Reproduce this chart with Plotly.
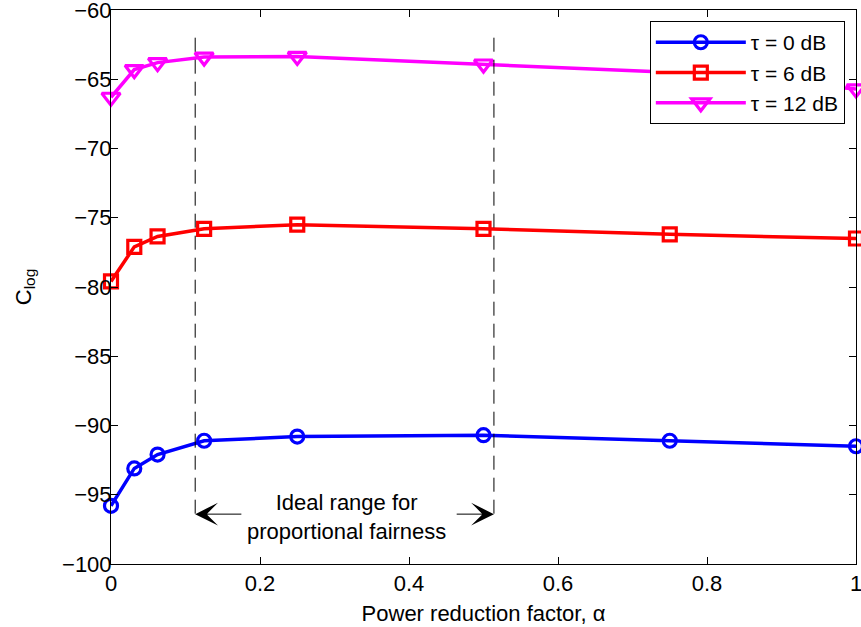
import plotly.graph_objects as go

alpha = [0, 0.03125, 0.0625, 0.125, 0.25, 0.5, 0.75, 1.0]
c_tau0 = [-95.8, -93.1, -92.1, -91.1, -90.8, -90.7, -91.1, -91.5]
c_tau6 = [-79.6, -77.1, -76.35, -75.8, -75.5, -75.8, -76.2, -76.5]
c_tau12 = [-66.3, -64.3, -63.8, -63.4, -63.35, -63.9, -64.5, -65.7]
series_names = ["τ = 0 dB", "τ = 6 dB", "τ = 12 dB"]
series_colors = ["#0000FF", "#FF0000", "#FF00FF"]
series_symbols = ["circle-open", "square-open", "triangle-down-open"]
series_sizes = [13, 13, 16]

range_bounds = [0.113, 0.514]
dash_y = [-62.0, -96.75]
arrow_y = -96.4
arrow_tails = [0.177, 0.462]
range_label = "Ideal range for<br>proportional fairness"
range_label_pos = (0.316, -96.6)

x_ticks = [0, 0.2, 0.4, 0.6, 0.8, 1]
x_ticklabels = ["0", "0.2", "0.4", "0.6", "0.8", "1"]
y_ticks = [-100, -95, -90, -85, -80, -75, -70, -65, -60]
y_ticklabels = ["−100", "−95", "−90", "−85", "−80", "−75", "−70", "−65", "−60"]

FONT = "Liberation Sans, Arial, Helvetica, sans-serif"
FS = 22

fig = go.Figure()
for ys, name, col, sym, sz in zip([c_tau0, c_tau6, c_tau12], series_names,
                                  series_colors, series_symbols, series_sizes):
    fig.add_trace(go.Scatter(
        x=alpha, y=ys, name=name, mode="lines+markers",
        line=dict(color=col, width=3.5),
        marker=dict(symbol=sym, size=sz, color=col, line=dict(color=col, width=3.2)),
        cliponaxis=False,
    ))

for xb in range_bounds:
    fig.add_shape(type="line", x0=xb, x1=xb, y0=dash_y[0], y1=dash_y[1],
                  xref="x", yref="y", line=dict(color="black", width=1, dash="14px,8px"))

for xb, xt in zip(range_bounds, arrow_tails):
    fig.add_annotation(x=xb, y=arrow_y, ax=xt, ay=arrow_y, xref="x", yref="y",
                       axref="x", ayref="y", showarrow=True, arrowhead=3,
                       arrowsize=3.8, arrowwidth=1, arrowcolor="black", text="")

fig.add_annotation(x=range_label_pos[0], y=range_label_pos[1], xref="x", yref="y",
                   text=range_label, showarrow=False,
                   font=dict(family=FONT, size=FS, color="black"))

axis_common = dict(showline=True, linecolor="black", linewidth=1, mirror="ticks",
                   ticks="inside", ticklen=7, tickcolor="black", showgrid=False,
                   zeroline=False, ticklabeloverflow="allow", automargin=False,
                   tickfont=dict(family=FONT, size=FS, color="black"))

fig.update_xaxes(range=[0, 1], tickvals=x_ticks, ticktext=x_ticklabels,
                 title=dict(text="Power reduction factor, α", standoff=10,
                            font=dict(family=FONT, size=FS, color="black")),
                 **axis_common)
fig.update_yaxes(range=[-100, -60], tickvals=y_ticks, ticktext=y_ticklabels,
                 ticklabelstandoff=-6,
                 title=dict(text="C<sub>log</sub>", standoff=24,
                            font=dict(family=FONT, size=FS, color="black")),
                 **axis_common)

fig.update_layout(
    width=861, height=627,
    margin=dict(l=111, r=5, t=10, b=63, autoexpand=False),
    plot_bgcolor="white", paper_bgcolor="white",
    font=dict(family=FONT, size=FS, color="black"),
    showlegend=True,
    legend=dict(x=0.985, y=0.98, xanchor="right", yanchor="top",
                bgcolor="white", bordercolor="black", borderwidth=1,
                font=dict(family=FONT, size=21, color="black"),
                itemwidth=90, tracegroupgap=0),
)

fig.write_html("out.html", config={"displayModeBar": False},
               post_script="document.body.style.margin='0px';")
